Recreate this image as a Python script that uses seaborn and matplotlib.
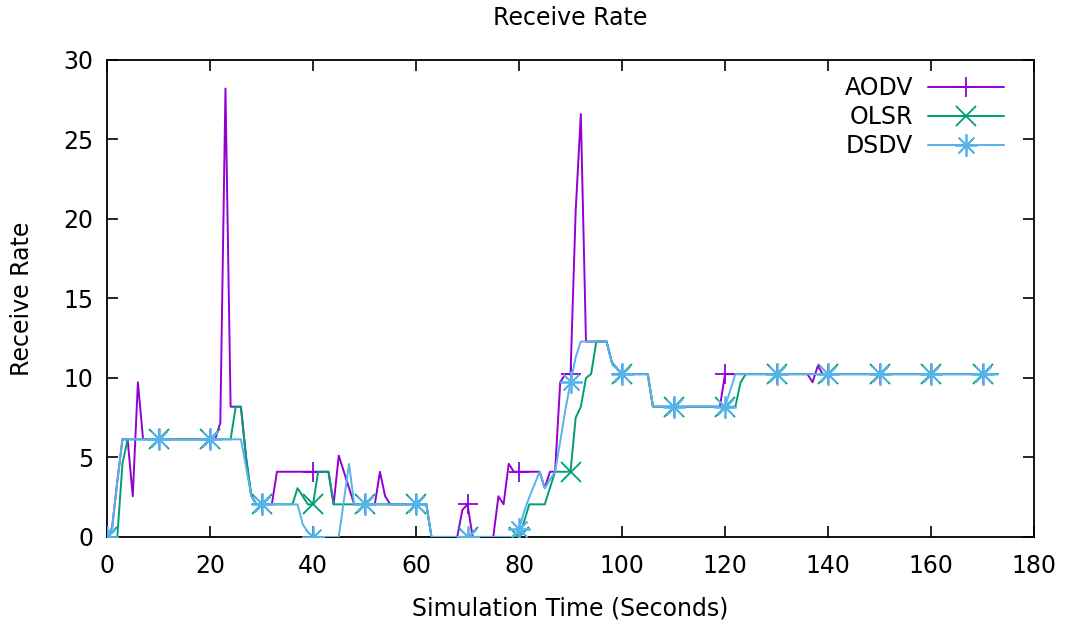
import numpy as np
import pandas as pd
import matplotlib
matplotlib.use("Agg")
import matplotlib.pyplot as plt
import seaborn as sns

# ---- data (sampled every second, 0..173 s) ----
time_s = list(range(0, 174))

aodv = ([0, 0.6, 3.5, 6.14, 6.14, 2.56, 9.73]
        + [6.14] * 15                      # 7..21
        + [7.17, 28.2, 8.19, 8.19, 8.19, 5.0, 2.6]   # 22..28
        + [2.05] * 4                       # 29..32
        + [4.1] * 11                       # 33..43
        + [2.05, 5.12, 4.1, 3.07]          # 44..47
        + [2.05] * 5                       # 48..52
        + [4.1, 2.56]                      # 53..54
        + [2.05] * 8                       # 55..62
        + [0] * 6                          # 63..68
        + [1.7, 2.05]                      # 69..70
        + [0] * 5                          # 71..75
        + [2.56, 2.05, 4.6]                # 76..78
        + [4.1] * 6                        # 79..84
        + [3.07, 4.1, 4.1, 9.73, 10.24, 10.24, 20.5, 26.6]  # 85..92
        + [12.29] * 5                      # 93..97
        + [11.0, 10.6]                     # 98..99
        + [10.24] * 6                      # 100..105
        + [8.19] * 14                      # 106..119
        + [10.24] * 17                     # 120..136
        + [9.73, 10.75]                    # 137..138
        + [10.24] * 35)                    # 139..173

olsr = ([0, 0, 0, 4.6]
        + [6.14] * 21                      # 4..24
        + [8.19, 8.19, 5.0, 2.6]           # 25..28
        + [2.05] * 8                       # 29..36
        + [3.07, 2.56, 2.05, 2.05]         # 37..40
        + [4.1] * 3                        # 41..43
        + [2.05] * 19                      # 44..62
        + [0] * 18                         # 63..80
        + [1.0]                            # 81
        + [2.05] * 4                       # 82..85
        + [3.07]                           # 86
        + [4.1] * 4                        # 87..90
        + [7.5, 8.19, 10.0, 10.24]         # 91..94
        + [12.29] * 3                      # 95..97
        + [11.0, 10.6]                     # 98..99
        + [10.24] * 6                      # 100..105
        + [8.19] * 17                      # 106..122
        + [9.7]                            # 123
        + [10.24] * 50)                    # 124..173

dsdv = ([0, 0.6, 3.5]
        + [6.14] * 24                      # 3..26
        + [4.4, 2.6]                       # 27..28
        + [2.05] * 9                       # 29..37
        + [0.8, 0.3]                       # 38..39
        + [0] * 6                          # 40..45
        + [2.3, 4.6]                       # 46..47
        + [2.05] * 15                      # 48..62
        + [0] * 17                         # 63..79
        + [0.5, 1.6, 2.5, 3.3, 4.1, 3.07, 3.6, 4.1, 6.0, 8.0, 9.73, 11.3]  # 80..91
        + [12.29] * 6                      # 92..97
        + [11.0, 10.6]                     # 98..99
        + [10.24] * 6                      # 100..105
        + [8.19] * 15                      # 106..120
        + [9.2]                            # 121
        + [10.24] * 52)                    # 122..173

series_names = ["AODV", "OLSR", "DSDV"]
x_ticks = list(range(0, 181, 20))
y_ticks = list(range(0, 31, 5))

df = pd.DataFrame({"t": time_s, "AODV": aodv, "OLSR": olsr, "DSDV": dsdv})

# ---- style ----
sns.set_style("ticks")
plt.rcParams["font.family"] = ["DejaVu Sans"]
plt.rcParams["text.color"] = "black"
plt.rcParams["axes.labelcolor"] = "black"
plt.rcParams["xtick.color"] = "black"
plt.rcParams["ytick.color"] = "black"
FS = 17

fig = plt.figure(figsize=(10.7, 6.28), dpi=100)
ax = fig.add_axes([0.1, 0.145, 0.8664, 0.7595])

colors = {"AODV": "#9400d3", "OLSR": "#009e73", "DSDV": "#56b4e9"}
markers = {"AODV": "+", "OLSR": "x", "DSDV": (8, 2, 0)}
msizes = {"AODV": 15, "OLSR": 14, "DSDV": 16}

for i, name in enumerate(series_names):
    sns.lineplot(data=df, x="t", y=name, ax=ax, color=colors[name],
                 marker=markers[name], markevery=10, markersize=msizes[name],
                 markeredgecolor=colors[name], markeredgewidth=1.3,
                 linewidth=1.4, label=name, zorder=2 + i)

ax.set_xlim(0, 180)
ax.set_ylim(0, 30)
ax.set_xticks(x_ticks)
ax.set_yticks(y_ticks)
ax.tick_params(direction="in", length=8, width=1.2, top=True, right=True,
               labelsize=FS, colors="black")
ax.tick_params(axis="x", pad=12)
ax.tick_params(axis="y", pad=10)
for sp in ax.spines.values():
    sp.set_visible(True)
    sp.set_linewidth(1.3)
    sp.set_color("black")

ax.set_xlabel("Simulation Time (Seconds)", fontsize=FS)
ax.set_ylabel("Receive Rate", fontsize=FS)
ax.xaxis.set_label_coords(0.5, -0.125)
ax.yaxis.set_label_coords(-0.079, 0.5)
ax.set_title("Receive Rate", fontsize=FS, pad=25)

leg = ax.legend(loc="upper right", bbox_to_anchor=(1004 / 1070, 1 - 76 / 628),
                bbox_transform=fig.transFigure, frameon=False, markerfirst=False,
                fontsize=FS, handlelength=3.2, handletextpad=0.65,
                labelspacing=0.22, borderpad=0, borderaxespad=0)

fig.savefig("out.png", dpi=100)
